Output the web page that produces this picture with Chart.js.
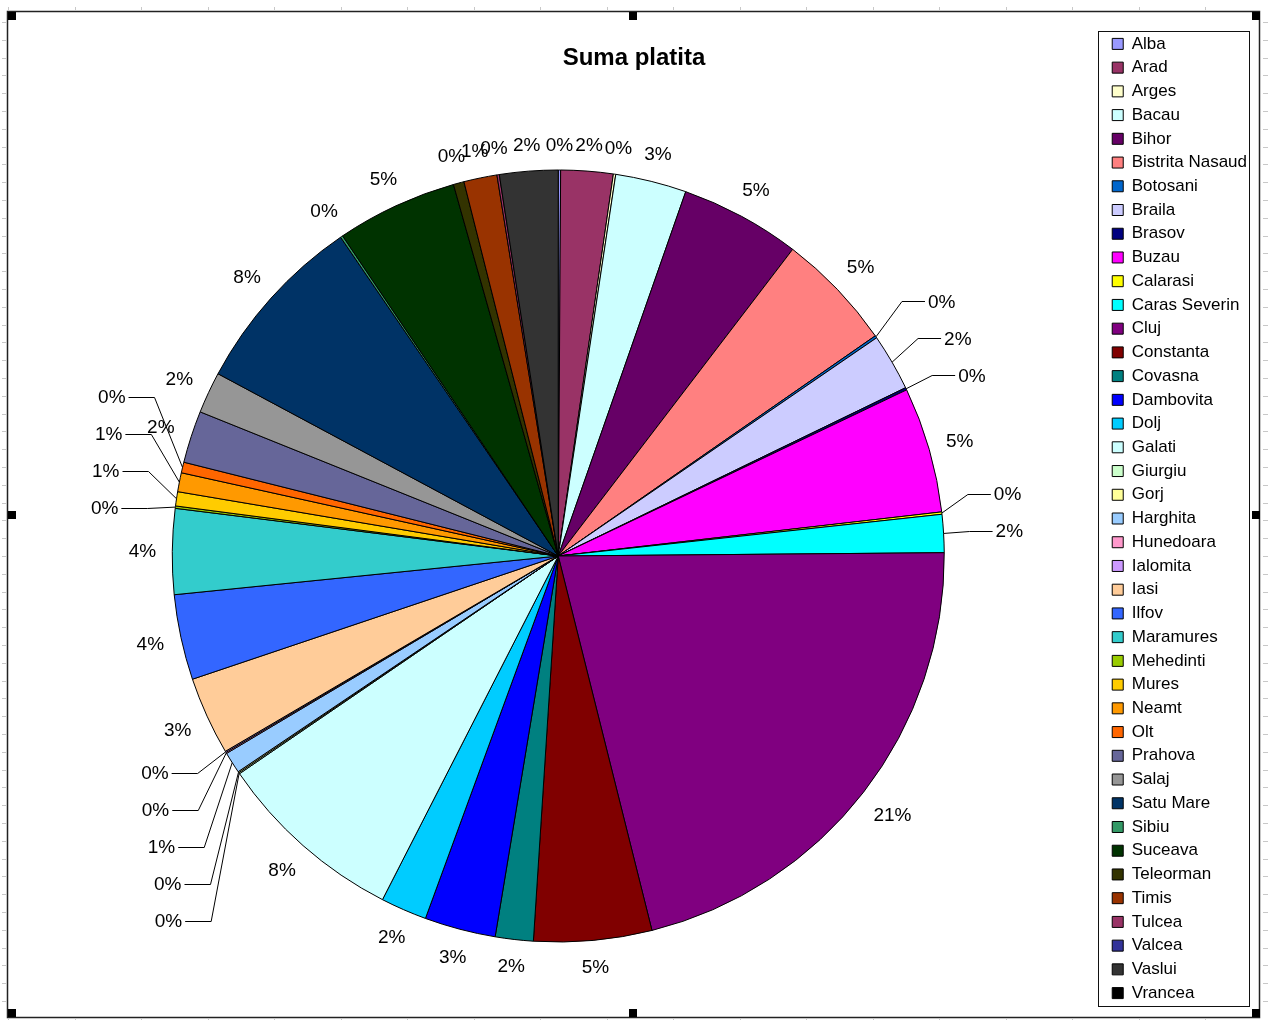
<!DOCTYPE html>
<html>
<head>
<meta charset="utf-8">
<title>Suma platita</title>
<script src="https://cdn.jsdelivr.net/npm/chart.js@4.4.0/dist/chart.umd.min.js"></script>
<style>
  html, body { margin: 0; padding: 0; background: #fff; }
  #wrap { position: relative; width: 1270px; height: 1020px; }
</style>
</head>
<body>
<div id="wrap"><canvas id="pieChart" width="1270" height="1020"></canvas></div>
<script>
// Counties, in legend order (= slice order, clockwise from 12 o'clock)
const judete = [
  'Alba', 'Arad', 'Arges', 'Bacau', 'Bihor', 'Bistrita Nasaud', 'Botosani', 'Braila',
  'Brasov', 'Buzau', 'Calarasi', 'Caras Severin', 'Cluj', 'Constanta', 'Covasna',
  'Dambovita', 'Dolj', 'Galati', 'Giurgiu', 'Gorj', 'Harghita', 'Hunedoara', 'Ialomita',
  'Iasi', 'Ilfov', 'Maramures', 'Mehedinti', 'Mures', 'Neamt', 'Olt', 'Prahova', 'Salaj',
  'Satu Mare', 'Sibiu', 'Suceava', 'Teleorman', 'Timis', 'Tulcea', 'Valcea', 'Vaslui', 'Vrancea'
];

// Paid amount per county (relative units, ~percent)
const sumaPlatita = [
  0.1, 2.2, 0.1, 3.0, 5.07, 4.99, 0.1, 2.4,
  0.1, 5.3, 0.1, 1.6, 21.4, 4.97, 1.6,
  3.0, 1.95, 8.0, 0.05, 0.05, 0.9, 0.05, 0.05,
  3.3, 3.6, 3.6, 0.1, 0.6, 0.8, 0.45, 2.2, 1.75,
  7.7, 0.1, 5.1, 0.45, 1.4, 0.1, 0, 2.46, 0
];

// Excel default series palette
const culori = [
  '#9999ff', '#993366', '#ffffcc', '#ccffff', '#660066', '#ff8080', '#0066cc', '#ccccff',
  '#000080', '#ff00ff', '#ffff00', '#00ffff', '#800080', '#800000', '#008080',
  '#0000ff', '#00ccff', '#ccffff', '#ccffcc', '#ffff99', '#99ccff', '#ff99cc', '#cc99ff',
  '#ffcc99', '#3366ff', '#33cccc', '#99cc00', '#ffcc00', '#ff9900', '#ff6600', '#666699', '#969696',
  '#003366', '#339966', '#003300', '#333300', '#993300', '#993366', '#333399', '#333333', '#000000'
];

const FONT = '"Liberation Sans", Arial, sans-serif';
const LABEL_FONT = '19px ' + FONT;

// white sheet, spreadsheet grid stubs and the chart frame
const framePlugin = {
  id: 'frame',
  beforeDraw(chart) {
    const ctx = chart.ctx;
    ctx.save();
    ctx.fillStyle = '#fff';
    ctx.fillRect(0, 0, chart.width, chart.height);
    ctx.strokeStyle = '#c8c8c8';
    ctx.lineWidth = 1;
    ctx.beginPath();
    for (let y = 22; y < 1015; y += 17.8) {
      ctx.moveTo(2, Math.round(y) + 0.5); ctx.lineTo(6, Math.round(y) + 0.5);
      ctx.moveTo(1263, Math.round(y) + 0.5); ctx.lineTo(1268, Math.round(y) + 0.5);
    }
    for (let x = 8; x < 1262; x += 66.5) {
      ctx.moveTo(Math.round(x) + 0.5, 7); ctx.lineTo(Math.round(x) + 0.5, 10);
      ctx.moveTo(Math.round(x) + 0.5, 1019); ctx.lineTo(Math.round(x) + 0.5, 1020);
    }
    ctx.stroke();
    ctx.strokeStyle = '#222';
    ctx.lineWidth = 1.5;
    ctx.strokeRect(7.5, 11.5, 1252, 1006);
    ctx.restore();
  },
  afterDraw(chart) {
    const ctx = chart.ctx;
    ctx.save();
    // border round the legend
    const boxes = chart.legend.legendHitBoxes;
    if (boxes && boxes.length) {
      const first = boxes[0], last = boxes[boxes.length - 1];
      const top = Math.round(first.top + first.height / 2 - 13) + 0.5;
      const bottom = Math.round(last.top + last.height / 2 + 13) + 0.5;
      const left = Math.round(first.left - 14) + 0.5;
      const right = Math.round(chart.legend.right - 8) + 0.5;
      ctx.strokeStyle = '#111';
      ctx.lineWidth = 1;
      ctx.strokeRect(left, top, right - left, bottom - top);
    }
    // selection handles
    ctx.fillStyle = '#000';
    [[8, 12], [629, 12], [1252, 12], [8, 511], [1252, 511], [8, 1009], [629, 1009], [1252, 1009]]
      .forEach(([x, y]) => ctx.fillRect(x, y, 8, 8));
    ctx.restore();
  }
};

// percent labels, with leader lines for crowded slices on the sides
const labelPlugin = {
  id: 'excelLabels',
  afterDatasetsDraw(chart) {
    const ctx = chart.ctx;
    const meta = chart.getDatasetMeta(0);
    const values = chart.data.datasets[0].data;
    const total = values.reduce((a, b) => a + b, 0);
    ctx.save();
    ctx.font = LABEL_FONT;

    const labels = [];
    meta.data.forEach((arc, i) => {
      if (!values[i]) return;
      const p = arc.getProps(['x', 'y', 'startAngle', 'endAngle', 'outerRadius'], true);
      const a = (p.startAngle + p.endAngle) / 2;
      const ux = Math.cos(a), uy = Math.sin(a);
      const text = Math.round(values[i] / total * 100) + '%';
      const w = ctx.measureText(text).width;
      const d = p.outerRadius + 16 + Math.abs(ux) * w / 2 + Math.abs(uy) * 9;
      labels.push({
        a, ux, uy, text, w,
        ax: p.x + p.outerRadius * ux, ay: p.y + p.outerRadius * uy,
        x: p.x + d * ux, y: p.y + d * uy, leader: false
      });
    });

    // runs of close labels on the left / right side
    const GAP = 4.6 * Math.PI / 180;
    const runs = [];
    let run = [labels[0]];
    for (let k = 1; k < labels.length; k++) {
      const prev = labels[k - 1], l = labels[k];
      const linked = Math.abs(prev.ux) >= 0.7 && Math.abs(l.ux) >= 0.7 &&
        prev.ux * l.ux > 0 && l.a - prev.a < GAP;
      if (linked) run.push(l); else { runs.push(run); run = [l]; }
    }
    runs.push(run);
    const clusters = runs.filter(r => r.length > 1);
    const fixed = runs.filter(r => r.length === 1).map(r => r[0]);

    const STEP = 37, CLEAR = 43;
    clusters.forEach(c => {
      const right = c[0].ux > 0;
      const dir = right ? 1 : -1;
      const meanY = c.reduce((s, l) => s + l.y, 0) / c.length - 8;
      const y0 = meanY - dir * STEP * (c.length - 1) / 2;
      c.forEach(l => { l.leader = true; l.right = right; l.tx = right ? l.ax + 52 : l.ax - 57; });
      const minX = Math.min(...c.map(l => right ? l.tx : l.tx - l.w)) - 18;
      const maxX = Math.max(...c.map(l => right ? l.tx + l.w : l.tx)) + 18;
      const top = meanY - STEP * (c.length - 1) / 2;
      const bottom = meanY + STEP * (c.length - 1) / 2;
      let down = 0, up = 0;
      fixed.forEach(o => {
        if (o.x + o.w / 2 < minX || o.x - o.w / 2 > maxX) return;
        if (o.y < meanY) down = Math.max(down, o.y + CLEAR - top);
        else up = Math.max(up, bottom - (o.y - CLEAR));
      });
      const shift = down - up;
      c.forEach((l, k) => { l.y = y0 + shift + dir * STEP * k; });
    });

    ctx.fillStyle = '#000';
    ctx.strokeStyle = '#000';
    ctx.lineWidth = 1;
    ctx.textBaseline = 'middle';
    labels.forEach(l => {
      if (l.leader) {
        const ly = Math.round(l.y) + 0.5;
        const ex = l.right ? l.ax + 26 : l.ax - 28;
        const endX = l.right ? l.tx - 3 : l.tx + 3;
        ctx.beginPath();
        ctx.moveTo(l.ax, l.ay);
        ctx.lineTo(ex, ly);
        ctx.lineTo(endX, ly);
        ctx.stroke();
        ctx.textAlign = l.right ? 'left' : 'right';
        ctx.fillText(l.text, l.tx, l.y + 1);
      } else {
        ctx.textAlign = 'center';
        ctx.fillText(l.text, l.x, l.y + 1);
      }
    });
    ctx.restore();
  }
};

new Chart(document.getElementById('pieChart'), {
  type: 'pie',
  data: {
    labels: judete,
    datasets: [{
      label: 'Suma platita',
      data: sumaPlatita,
      backgroundColor: culori,
      borderColor: '#000',
      borderWidth: 1,
      radius: 386,
      hoverOffset: 0
    }]
  },
  options: {
    responsive: false,
    animation: false,
    devicePixelRatio: 1,
    events: [],
    layout: { padding: { left: 11, right: 13, top: 27, bottom: 10 } },
    plugins: {
      title: {
        display: true,
        text: 'Suma platita',
        color: '#000',
        font: { family: FONT, size: 24, weight: 'bold' },
        padding: { top: 16.6, bottom: 29.6 }
      },
      legend: {
        position: 'right',
        fullSize: true,
        labels: {
          boxWidth: 11,
          boxHeight: 11,
          padding: 6.73,
          color: '#000',
          font: { family: FONT, size: 17 }
        }
      },
      tooltip: { enabled: false }
    }
  },
  plugins: [framePlugin, labelPlugin]
});
</script>
</body>
</html>
